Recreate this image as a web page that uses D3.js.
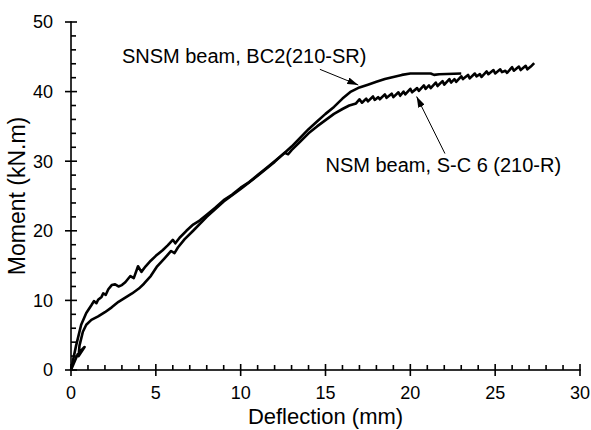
<!DOCTYPE html>
<html>
<head>
<meta charset="utf-8">
<script src="https://cdn.jsdelivr.net/npm/d3@7"></script>
<style>
  html, body { margin: 0; padding: 0; background: #fff; }
  svg { display: block; font-family: Arial, "Liberation Sans", sans-serif; }
</style>
</head>
<body>
<svg id="chart" width="591" height="430"></svg>
<script>
// ---- data (deflection mm, moment kN.m) ----
const xTicks = [0, 5, 10, 15, 20, 25, 30];
const yTicks = [0, 10, 20, 30, 40, 50];
const xMinor = [1, 2, 3, 4, 6, 7, 8, 9, 11, 12, 13, 14, 16, 17, 18, 19, 21, 22, 23, 24, 26, 27, 28, 29];
const yMinor = [2, 4, 6, 8, 12, 14, 16, 18, 22, 24, 26, 28, 32, 34, 36, 38, 42, 44, 46, 48];
const xLabel = "Deflection (mm)";
const yLabel = "Moment (kN.m)";

const nsmDeflection = [0, 0.3, 0.6, 0.9, 1.2, 1.35, 1.5, 1.6, 1.8, 1.9, 2.05, 2.2, 2.4, 2.6, 2.8, 3.0, 3.2, 3.5, 3.7, 3.95, 4.15, 4.4, 4.7, 5.0, 5.4, 5.7, 6.0, 6.15, 6.4, 6.8, 7.2, 7.6, 8, 8.5, 9, 9.5, 10, 10.5, 11, 11.5, 12, 12.6, 12.8, 13, 13.5, 14, 14.5, 15, 15.5, 16, 16.4, 16.8,
  17.0, 17.15, 17.4, 17.5, 17.8, 17.9, 18.1, 18.2, 18.5, 18.6, 18.9, 19.0, 19.3, 19.4, 19.6, 19.7, 20.0, 20.1, 20.4, 20.5, 20.8, 20.9, 21.1, 21.2, 21.5, 21.6, 21.9, 22.0, 22.3, 22.4, 22.6, 22.7, 23.0, 23.1, 23.4, 23.5, 23.8, 23.9, 24.1, 24.2, 24.5, 24.6, 24.9, 25.0, 25.3, 25.4, 25.6, 25.7, 26.0, 26.1, 26.4, 26.5, 26.8, 26.9, 27.1, 27.3];
const nsmMoment = [0, 3.5, 6.5, 8.2, 9.3, 9.9, 9.6, 10.1, 10.5, 11.0, 10.8, 11.6, 12.2, 12.3, 12.0, 12.2, 12.6, 13.5, 13.2, 14.9, 14.1, 14.9, 15.7, 16.4, 17.2, 17.9, 18.7, 18.2, 19.0, 20.0, 20.9, 21.5, 22.3, 23.3, 24.4, 25.2, 26.2, 27.0, 28.0, 29.0, 30.0, 31.2, 31.0, 31.6, 32.8, 34.0, 35.0, 35.9, 36.8, 37.5, 38.0, 38.3,
  38.9, 38.4, 39.0, 38.6, 39.3, 38.8, 39.2, 38.9, 39.6, 39.1, 39.7, 39.2, 39.9, 39.4, 40.0, 39.6, 40.4, 39.9, 40.5, 40.1, 40.9, 40.4, 40.9, 40.5, 41.3, 40.8, 41.5, 41.0, 41.8, 41.3, 41.8, 41.4, 42.2, 41.8, 42.4, 41.9, 42.6, 42.2, 42.5, 42.1, 42.9, 42.5, 43.1, 42.6, 43.2, 42.8, 43.0, 42.7, 43.5, 43.0, 43.6, 43.1, 43.7, 43.2, 43.6, 44.1];

const snsmDeflection = [0, 0.4, 0.8, 0.45, 0.5, 0.7, 0.9, 1.2, 1.6, 2.0, 2.4, 2.8, 3.2, 3.6, 4.0, 4.3, 4.7, 5.05, 5.5, 5.9, 6.1, 6.3, 6.7, 7.2, 8, 9, 10, 11, 12, 13, 14, 14.5, 15, 15.5, 16, 16.5, 17, 17.5, 18, 18.5, 19, 19.5, 20, 21.2, 21.4, 21.7, 23];
const snsmMoment = [0, 2.3, 3.3, 2.0, 3.5, 5.5, 6.5, 7.2, 7.7, 8.3, 9.0, 9.8, 10.4, 11.0, 11.7, 12.4, 13.5, 14.8, 16.0, 17.1, 16.8, 17.6, 18.8, 20.0, 22.0, 24.2, 26.0, 27.9, 29.9, 32.1, 34.6, 35.7, 36.8, 37.8, 39.0, 40.0, 40.6, 41.0, 41.4, 41.8, 42.1, 42.4, 42.6, 42.6, 42.4, 42.5, 42.6];

// annotations: label, text anchor point, arrow start, arrow end (data units)
const annoLabels = ["SNSM beam, BC2(210-SR)", "NSM beam, S-C 6 (210-R)"];
const annoTextX = [3.0, 15.0];
const annoTextY = [44.1, 28.5];
const annoFromX = [14.67, 22.04];
const annoFromY = [43.2, 31.1];
const annoToX = [16.93, 20.37];
const annoToY = [40.95, 39.3];

// ---- drawing ----
const svg = d3.select("#chart");
const x = d3.scaleLinear().domain([0, 30]).range([71, 580]);
const y = d3.scaleLinear().domain([0, 50]).range([370, 22]);
const X0 = x(0), Y0 = y(0);
const T = 1.6; // tick/axis thickness

const defs = svg.append("defs");
defs.append("marker").attr("id", "arrow").attr("viewBox", "0 0 11 7")
  .attr("refX", 11).attr("refY", 3.5).attr("markerWidth", 11).attr("markerHeight", 7)
  .attr("markerUnits", "userSpaceOnUse").attr("orient", "auto")
  .append("path").attr("d", "M0,0 L11,3.5 L0,7 Z").attr("fill", "#000");

// ticks and axis lines as filled rects: [x, y, w, h]
const rects = [];
rects.push([X0 - T / 2, Y0 - T / 2, x(30) - X0 + T, T]);      // x axis
rects.push([X0 - T / 2, y(50) - T / 2, T, Y0 - y(50) + T]);   // y axis
xTicks.forEach(d => rects.push([x(d) - T / 2, Y0 - 6, T, 12]));
xMinor.forEach(d => rects.push([x(d) - T / 2, Y0 - 5, T, 5]));
yTicks.forEach(d => rects.push([X0 - 6, y(d) - T / 2, 12, T]));
yMinor.forEach(d => rects.push([X0, y(d) - T / 2, 5, T]));

svg.append("g").selectAll("rect").data(rects).join("rect")
  .attr("x", d => d[0]).attr("y", d => d[1]).attr("width", d => d[2]).attr("height", d => d[3])
  .attr("fill", "#000");

// tick labels
svg.selectAll(".xlab").data(xTicks).join("text")
  .attr("x", d => x(d)).attr("y", Y0 + 29).attr("text-anchor", "middle")
  .attr("font-size", 18).attr("fill", "#000").text(d => d);
svg.selectAll(".ylab").data(yTicks).join("text")
  .attr("x", X0 - 18).attr("y", d => y(d)).attr("dy", "0.35em").attr("text-anchor", "end")
  .attr("font-size", 18).attr("fill", "#000").text(d => d);

// axis titles
svg.append("text").attr("x", x(15)).attr("y", 424).attr("text-anchor", "middle")
  .attr("font-size", 22).attr("fill", "#000").text(xLabel);
svg.append("text").attr("transform", `translate(25,${(y(0) + y(50)) / 2}) rotate(-90)`)
  .attr("text-anchor", "middle").attr("font-size", 23).attr("fill", "#000").text(yLabel);

// curves
const line = d3.line().x(d => x(d[0])).y(d => y(d[1]));
const nsm = nsmDeflection.map((d, i) => [d, nsmMoment[i]]);
const snsm = snsmDeflection.map((d, i) => [d, snsmMoment[i]]);
[nsm, snsm].forEach(series => {
  svg.append("path").datum(series).attr("d", line)
    .attr("fill", "none").attr("stroke", "#000").attr("stroke-width", 2.6)
    .attr("stroke-linejoin", "round");
});

// annotations
annoLabels.forEach((t, i) => {
  svg.append("text").attr("x", x(annoTextX[i])).attr("y", y(annoTextY[i]))
    .attr("font-size", 20).attr("fill", "#000").text(t);
  svg.append("line")
    .attr("x1", x(annoFromX[i])).attr("y1", y(annoFromY[i]))
    .attr("x2", x(annoToX[i])).attr("y2", y(annoToY[i]))
    .attr("stroke", "#000").attr("stroke-width", 1).attr("marker-end", "url(#arrow)");
});
</script>
</body>
</html>
